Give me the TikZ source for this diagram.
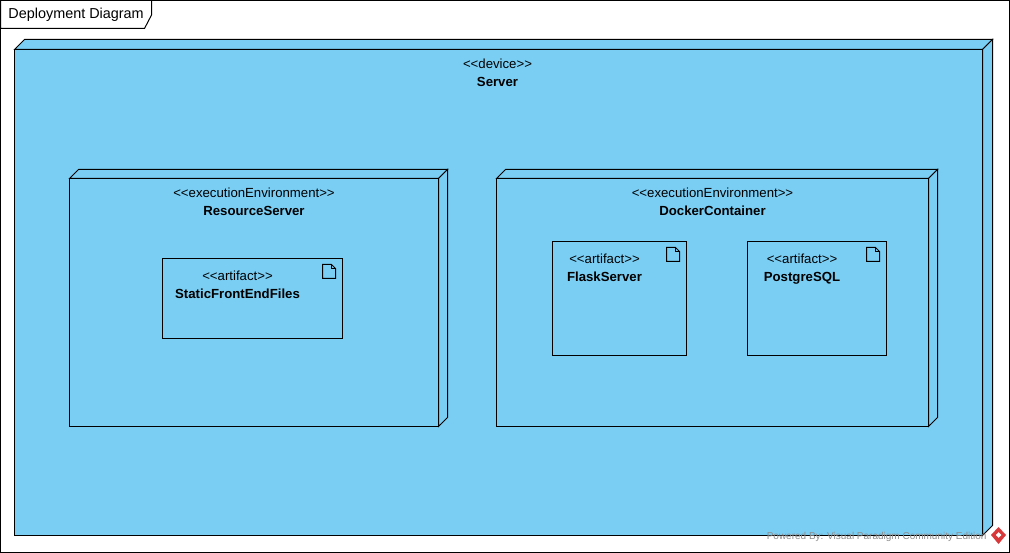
\documentclass[tikz,border=0pt]{standalone}
\usepackage{fontspec}
\setmainfont{Liberation Sans}
\usepackage{tikz}
\usetikzlibrary{positioning}
\definecolor{nodeblue}{HTML}{7ACEF4}
\definecolor{markgray}{HTML}{8C8C8C}
\definecolor{markred}{HTML}{D9383A}
\newcommand{\nodedepth}[2]{%
  \draw[facedraw] (#1.north west) -- ++(#2,-#2) -- ([xshift=#2 pt,yshift=#2 pt]#1.north east) -- (#1.north east) -- cycle;
  \draw[facedraw] (#1.north east) -- ([xshift=#2 pt,yshift=#2 pt]#1.north east) -- ([xshift=#2 pt,yshift=#2 pt]#1.south east) -- (#1.south east) -- cycle;
}
\newcommand{\stereotype}[1]{<{}<#1>{}>}
\begin{document}
\begin{tikzpicture}[
    x=1pt, y=-1pt,
    font=\fontsize{13.2}{18}\selectfont,
    line width=1pt,
    facedraw/.style={draw=black, fill=nodeblue},
    box/.style={rectangle, draw=black, fill=nodeblue, inner sep=0pt, outer sep=0pt},
    boxtext/.style={align=center, inner sep=0pt},
    framelabel/.style={anchor=west, inner sep=0pt, font=\fontsize{14.4}{16}\selectfont},
    foldicon/.style={draw=black, line width=1pt, line join=miter}
  ]
    \useasboundingbox (0,0) rectangle (1010,553);
    % Frame
    \fill[white] (0,0) rectangle (1010,553);
    \node[box, fill=white, anchor=north west, minimum width=1009pt, minimum height=552pt] (frame) at (0.5,0.5) {};
    \draw[fill=white] (frame.north west) -- (151.5,0.5) -- (151.5,15) -- (144.5,28.5) -- (0.5,28.5) -- cycle;
    \node[framelabel] (title) at (8,15) {Deployment Diagram};

    % Device
    \node[box, anchor=north west, minimum width=968pt, minimum height=486pt] (server) at (14.5,49.5) {};
    \nodedepth{server}{10}
    \node[boxtext, below=8.5pt of server.north, xshift=-1pt] (servertext) {\stereotype{device}\\\textbf{Server}};

    % Execution environments
    \node[box, anchor=north west, minimum width=369pt, minimum height=248pt] (resource) at (69.5,178.5) {};
    \nodedepth{resource}{9}
    \node[boxtext, below=8.5pt of resource.north] (resourcetext) {\stereotype{executionEnvironment}\\\textbf{ResourceServer}};
    \node[box, anchor=north west, minimum width=432pt, minimum height=248pt] (docker) at (496.5,178.5) {};
    \nodedepth{docker}{9}
    \node[boxtext, below=8.5pt of docker.north] (dockertext) {\stereotype{executionEnvironment}\\\textbf{DockerContainer}};

    % Artifacts
    \node[box, anchor=north west, minimum width=180pt, minimum height=80pt] (static) at (162.5,258.5) {};
    \node[boxtext, below=11.5pt of static.north, xshift=-15pt] (statictext) {\stereotype{artifact}\\\textbf{StaticFrontEndFiles}};
    \node[box, anchor=north west, minimum width=134pt, minimum height=114pt] (flask) at (552.5,241.5) {};
    \node[boxtext, below=11.5pt of flask.north, xshift=-15pt] (flasktext) {\stereotype{artifact}\\\textbf{FlaskServer}};
    \node[box, anchor=north west, minimum width=139pt, minimum height=114pt] (postgres) at (747.5,241.5) {};
    \node[boxtext, below=11.5pt of postgres.north, xshift=-15pt] (postgrestext) {\stereotype{artifact}\\\textbf{PostgreSQL}};

    % Artifact icons
    \foreach \boxname in {static,flask,postgres} {
      \draw[foldicon] ([xshift=-20pt,yshift=-6pt]\boxname.north east) -- ++(9,0) -- ++(4,4) -- ++(0,10) -- ++(-13,0) -- cycle;
      \draw[foldicon, line width=0.7pt] ([xshift=-11pt,yshift=-6pt]\boxname.north east) -- ++(0,4) -- ++(4,0);
    }

    % Watermark
    \node[anchor=east, inner sep=0pt, text=markgray, font=\fontsize{10}{12}\selectfont] (powered) at (987,536.5) {Powered By: Visual Paradigm Community Edition};
    \fill[markred, even odd rule] (998.5,527) -- (1006,535) -- (998.5,544) -- (991,535) -- cycle
      (998.5,532) -- (1001.5,535) -- (998.5,538) -- (995.5,535) -- cycle;
  \end{tikzpicture}
\end{document}
